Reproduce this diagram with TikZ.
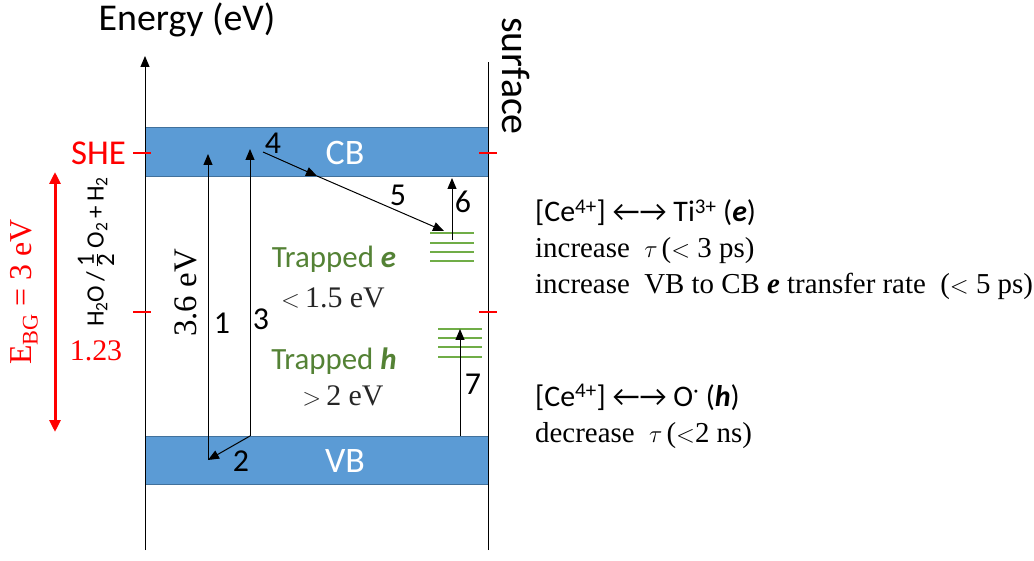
\documentclass[tikz,border=0pt]{standalone}
\usepackage{fontspec}
\setmainfont{Liberation Serif}
\setsansfont{Carlito}
\usetikzlibrary{arrows.meta, positioning}
\definecolor{bandblue}{HTML}{5B9BD5}
\definecolor{bandedge}{HTML}{41719C}
\definecolor{trapgreen}{HTML}{70AD47}
\definecolor{textgreen}{HTML}{548235}
\definecolor{shered}{HTML}{FF0000}

\begin{document}
\begin{tikzpicture}[
  x=1bp, y=-1bp,
  band/.style={draw=bandedge, fill=bandblue, line width=1bp},
  bandlabel/.style={text=white, font=\sffamily\fontsize{36}{40}\selectfont},
  num/.style={inner sep=0pt, font=\sffamily\fontsize{32}{36}\selectfont},
  trans/.style={-{Triangle[length=11bp,width=9bp]}, line width=1bp},
  level/.style={draw=trapgreen, line width=1.3bp},
  redtick/.style={draw=shered, line width=2.5bp},
  trapped/.style={inner sep=0pt, text=textgreen, font=\sffamily\fontsize{31}{36}\selectfont},
  gap/.style={inner sep=0pt, text=black!85, font=\fontsize{30}{36}\selectfont},
  note/.style={anchor=base west, inner sep=0pt, font=\fontsize{29}{32}\selectfont},
  pair/.style={anchor=base west, inner sep=0pt, font=\sffamily\fontsize{30}{32}\selectfont}
]
\useasboundingbox (0,0) rectangle (1034,561);

% bands
\draw[band] (145,128) rectangle (488,177);
\draw[band] (145,436) rectangle (488,484);
\node[bandlabel] (cb) at (345,153) {CB};
\node[bandlabel] (vb) at (345,461) {VB};

% axis and surface
\coordinate (axbot) at (145,550);
\coordinate (axtop) at (145,56);
\coordinate (sfbot) at (488,550);
\coordinate (sftop) at (488,62);
\draw[trans] (axbot) -- (axtop);
\draw[line width=1bp] (sfbot) -- (sftop);
\node[font=\sffamily\fontsize{38}{40}\selectfont] (energy) at (187,20) {Energy (eV)};
\node[font=\sffamily\fontsize{40}{44}\selectfont, rotate=-90] (surface) at (516,76) {surface};

% red levels
\draw[redtick] (133,153) -- (151,153);
\draw[redtick] (479,153) -- (497,153);
\draw[redtick] (133,312) -- (151,312);
\draw[redtick] (479,312) -- (497,312);
\node[anchor=east, inner sep=0pt, text=shered, font=\sffamily\fontsize{35}{40}\selectfont] (she) at (126,153) {SHE};
\coordinate (bgtop) at (55,172);
\coordinate (bgbot) at (55,432);
\draw[{Triangle[length=12bp,width=11bp]}-{Triangle[length=12bp,width=11bp]}, shered, line width=3bp] (bgtop) -- (bgbot);
\node[rotate=90, text=shered, font=\fontsize{32}{36}\selectfont] (ebg) at (24,292) {E\textsubscript{BG} = 3 eV};
\node[rotate=90, font=\sffamily\fontsize{25}{30}\selectfont] (water) at (96,252) {H\textsubscript{2}O\,/\,$\frac{\textsf{1}}{\textsf{2}}$\,O\textsubscript{2}\,+\,H\textsubscript{2}};
\node[text=shered, font=\fontsize{30}{36}\selectfont] (pot) at (96,351) {1.23};

% trap levels
\foreach \yy in {233,243,252,261} \draw[level] (430,\yy) -- (474,\yy);
\foreach \yy in {329,338,347,357} \draw[level] (438,\yy) -- (482,\yy);

% transitions
\coordinate (a1) at (208,460);
\coordinate (b1) at (208,154);
\coordinate (a3) at (250,436);
\coordinate (b3) at (250,149);
\coordinate (a4) at (263,152);
\coordinate (m4) at (317,176);
\coordinate (b5) at (444,231);
\coordinate (a6) at (452,240);
\coordinate (b6) at (452,178);
\coordinate (a7) at (460,436);
\coordinate (b7) at (460,329);
\draw[trans] (a1) -- (b1);
\draw[trans] (a3) -- (b3);
\draw[trans] (a3) -- (a1);
\draw[trans] (a4) -- (m4);
\draw[trans] (m4) -- (b5);
\draw[trans] (a6) -- (b6);
\draw[trans] (a7) -- (b7);
\node[num] (n1) at (222,323) {1};
\node[num] (n2) at (241,461) {2};
\node[num] (n3) at (261,319) {3};
\node[num] (n4) at (273,143) {4};
\node[num] (n5) at (398,195) {5};
\node[num] (n6) at (463,202) {6};
\node[num] (n7) at (473,384) {7};
\node[rotate=90, font=\fontsize{33}{36}\selectfont] (gapsix) at (186,293) {3.6 eV};

% trapped carriers
\node[trapped] (trape) at (334,259) {Trapped \textbf{\textit{e}}};
\node[gap] (gape) at (333,298) {$<$\,1.5 eV};
\node[trapped] (traph) at (334,361) {Trapped \textbf{\textit{h}}};
\node[gap] (gaph) at (343,396) {$>$\,2 eV};

% notes
\node[pair] (tipair) at (535,222) {[Ce\textsuperscript{4+}] ←→ Ti\textsuperscript{3+} (\textbf{\textit{e}})};
\node[note] (tinote) at (535,258) {increase\ \ $\tau\,$($<$ 3 ps)};
\node[note] (tirate) at (535,294) {increase\ \ VB to CB \textbf{\textit{e}} transfer\ rate\ \ ($<$ 5 ps)};
\node[pair] (opair) at (535,406) {[Ce\textsuperscript{4+}] ←→ O\textsuperscript{·} (\textbf{\textit{h}})};
\node[note] (onote) at (535,442) {decrease\ \ $\tau\,$($<$2 ns)};
\end{tikzpicture}
\end{document}
